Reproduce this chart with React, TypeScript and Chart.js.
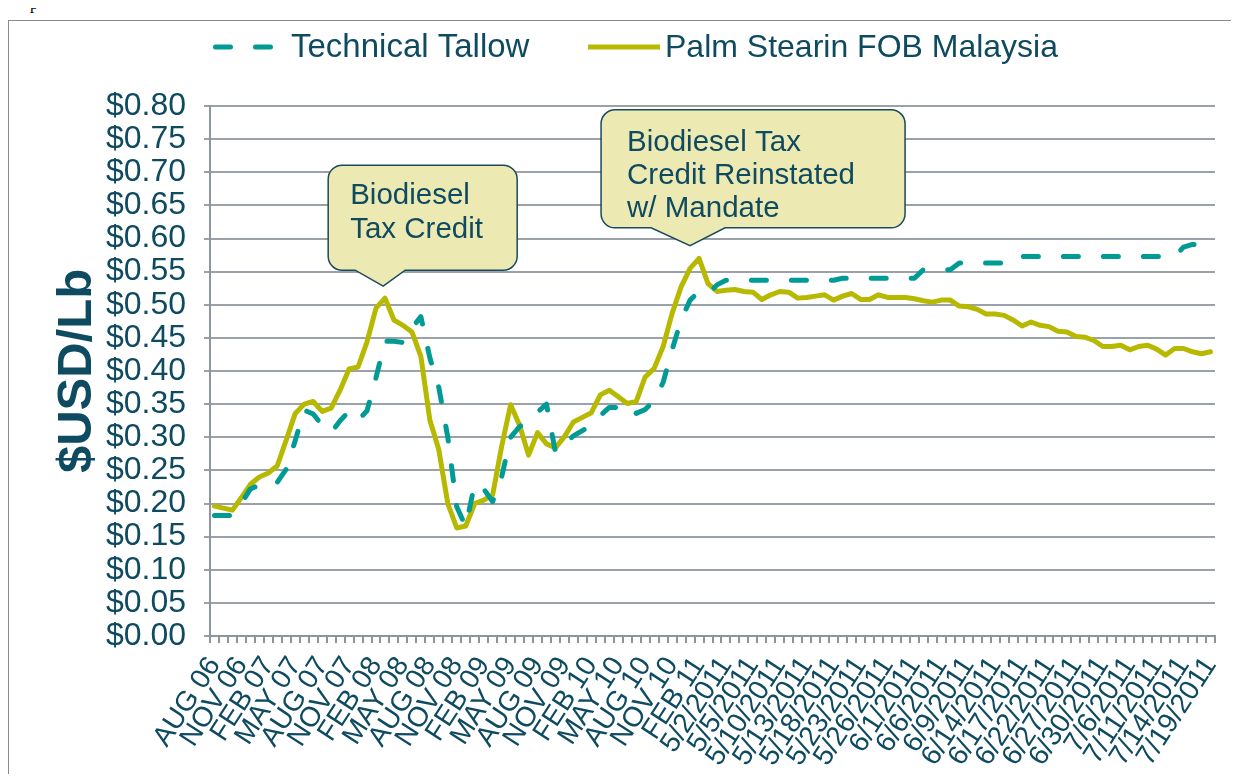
import React, { useEffect, useRef } from "react";
import { Chart, registerables } from "chart.js";

Chart.register(...registerables);

const monthLabels = [
  "AUG 06", "SEP 06", "OCT 06", "NOV 06", "DEC 06",
  "JAN 07", "FEB 07", "MAR 07", "APR 07", "MAY 07", "JUN 07", "JUL 07", "AUG 07", "SEP 07", "OCT 07", "NOV 07", "DEC 07",
  "JAN 08", "FEB 08", "MAR 08", "APR 08", "MAY 08", "JUN 08", "JUL 08", "AUG 08", "SEP 08", "OCT 08", "NOV 08", "DEC 08",
  "JAN 09", "FEB 09", "MAR 09", "APR 09", "MAY 09", "JUN 09", "JUL 09", "AUG 09", "SEP 09", "OCT 09", "NOV 09", "DEC 09",
  "JAN 10", "FEB 10", "MAR 10", "APR 10", "MAY 10", "JUN 10", "JUL 10", "AUG 10", "SEP 10", "OCT 10", "NOV 10", "DEC 10",
  "JAN 11", "FEB 11", "MAR 11", "APR 11",
];

const dayLabels = [
  "5/2/2011", "5/3/2011", "5/4/2011", "5/5/2011", "5/6/2011", "5/9/2011", "5/10/2011", "5/11/2011", "5/12/2011", "5/13/2011",
  "5/16/2011", "5/17/2011", "5/18/2011", "5/19/2011", "5/20/2011", "5/23/2011", "5/24/2011", "5/25/2011", "5/26/2011", "5/27/2011",
  "5/31/2011", "6/1/2011", "6/2/2011", "6/3/2011", "6/6/2011", "6/7/2011", "6/8/2011", "6/9/2011", "6/10/2011", "6/13/2011",
  "6/14/2011", "6/15/2011", "6/16/2011", "6/17/2011", "6/20/2011", "6/21/2011", "6/22/2011", "6/23/2011", "6/24/2011", "6/27/2011",
  "6/28/2011", "6/29/2011", "6/30/2011", "7/1/2011", "7/5/2011", "7/6/2011", "7/7/2011", "7/8/2011", "7/11/2011", "7/12/2011",
  "7/13/2011", "7/14/2011", "7/15/2011", "7/18/2011", "7/19/2011",
];

const categories = [...monthLabels, ...dayLabels];

const seriesNames = ["Technical Tallow", "Palm Stearin FOB Malaysia"];

const technicalTallow = [
  0.182, 0.182, 0.182, 0.2, 0.222, 0.228, 0.224, 0.232, 0.252, 0.295,
  0.341, 0.335, 0.318, 0.307, 0.325, 0.339, 0.326, 0.34, 0.39, 0.445,
  0.445, 0.443, 0.465, 0.482, 0.42, 0.375, 0.3, 0.195, 0.165, 0.23,
  0.222, 0.203, 0.24, 0.3, 0.316, 0.325, 0.338, 0.35, 0.277, 0.29,
  0.302, 0.31, 0.318, 0.333, 0.345, 0.345, 0.35, 0.336, 0.342, 0.355,
  0.383, 0.432, 0.477, 0.507, 0.52, 0.516, 0.53,
  0.537, 0.537, 0.537, 0.537, 0.537, 0.537, 0.537, 0.537, 0.537, 0.537, 0.537, 0.537, 0.537,
  0.54, 0.54, 0.54, 0.54, 0.54, 0.54, 0.54, 0.54, 0.54,
  0.553, 0.553, 0.553, 0.553,
  0.563, 0.563, 0.563, 0.563, 0.563, 0.563,
  0.573, 0.573, 0.573, 0.573, 0.573, 0.573, 0.573, 0.573, 0.573, 0.573,
  0.573, 0.573, 0.573, 0.573, 0.573, 0.573, 0.573, 0.573, 0.573,
  0.587, 0.591, 0.591, 0.591,
];

const palmStearin = [
  0.196, 0.193, 0.19, 0.209, 0.229, 0.24, 0.246, 0.257, 0.296, 0.336,
  0.35, 0.354, 0.339, 0.344, 0.371, 0.403, 0.406, 0.444, 0.495, 0.51,
  0.477, 0.469, 0.459, 0.422, 0.326, 0.281, 0.2, 0.163, 0.166, 0.2,
  0.205, 0.213, 0.286, 0.349, 0.318, 0.273, 0.307, 0.29, 0.284, 0.301,
  0.323, 0.33, 0.337, 0.364, 0.371, 0.361, 0.351, 0.354, 0.391, 0.404,
  0.437, 0.487, 0.527, 0.555, 0.57, 0.532, 0.52,
  0.522, 0.523, 0.52, 0.519, 0.508, 0.515, 0.52, 0.519, 0.51, 0.511,
  0.513, 0.515, 0.507, 0.513, 0.517, 0.508, 0.508, 0.515, 0.511, 0.511,
  0.511, 0.509, 0.506, 0.504, 0.507, 0.507, 0.498, 0.497, 0.493, 0.486,
  0.486, 0.484, 0.477, 0.468, 0.474, 0.469, 0.467, 0.46, 0.459, 0.452,
  0.451, 0.446, 0.437, 0.437, 0.439, 0.432, 0.437, 0.439, 0.433, 0.424,
  0.434, 0.434, 0.429, 0.426, 0.429,
];

const callouts = [
  { lines: ["Biodiesel", "Tax Credit"], category: 18.8, value: 0.528 },
  { lines: ["Biodiesel Tax", "Credit Reinstated", "w/ Mandate"], category: 53, value: 0.589 },
];

// geometry of the callout boxes relative to the pointer tip (pixels)
const calloutShapes = [
  { left: -55, right: 134, top: -121, bottom: -16, baseL: -28, baseR: 22, textX: 22, textY: 31, lineGap: 34 },
  { left: -89, right: 215, top: -136, bottom: -18, baseL: -39, baseR: 35, textX: 26, textY: 33, lineGap: 33 },
];

const FONT = '"Liberation Sans", Arial, Helvetica, sans-serif';
const TEXT = "#0E4A60";
const GRID = "#9AA1A8";
const AXIS = "#8E969D";
const TALLOW = "#009B94";
const PALM = "#B7B800";

export default function App() {
  const ref = useRef<HTMLCanvasElement>(null);

  useEffect(() => {
    document.documentElement.style.overflow = "hidden";
    const canvas = ref.current;
    if (!canvas) return;
    const ctx = canvas.getContext("2d");
    if (!ctx) return;

    const overlay = {
      id: "overlay",
      afterDraw(chart: any) {
        const c = chart.ctx;
        // legend
        c.save();
        c.textBaseline = "middle";
        c.fillStyle = TEXT;
        const ly = 27;
        c.lineWidth = 5;
        c.strokeStyle = TALLOW;
        c.lineCap = "round";
        c.setLineDash([15, 25]);
        c.beginPath();
        c.moveTo(207.5, ly);
        c.lineTo(262.5, ly);
        c.stroke();
        c.setLineDash([]);
        c.textAlign = "left";
        c.font = `33px ${FONT}`;
        c.fillText(seriesNames[0], 283, ly + 1);
        c.strokeStyle = PALM;
        c.lineCap = "butt";
        c.beginPath();
        c.moveTo(580, ly);
        c.lineTo(652, ly);
        c.stroke();
        c.font = `32px ${FONT}`;
        c.fillText(seriesNames[1], 657, ly + 1);
        c.restore();

        // callouts
        const xs = chart.scales.x;
        const ys = chart.scales.y;
        callouts.forEach((co, k) => {
          const s = calloutShapes[k];
          const tx = xs.getPixelForValue(co.category);
          const ty = ys.getPixelForValue(co.value);
          const L = tx + s.left, R = tx + s.right, T = ty + s.top, B = ty + s.bottom;
          const r = 14;
          c.save();
          c.beginPath();
          c.moveTo(L + r, T);
          c.lineTo(R - r, T);
          c.arcTo(R, T, R, T + r, r);
          c.lineTo(R, B - r);
          c.arcTo(R, B, R - r, B, r);
          c.lineTo(tx + s.baseR, B);
          c.lineTo(tx, ty);
          c.lineTo(tx + s.baseL, B);
          c.lineTo(L + r, B);
          c.arcTo(L, B, L, B - r, r);
          c.lineTo(L, T + r);
          c.arcTo(L, T, L + r, T, r);
          c.closePath();
          c.fillStyle = "#EDE9B3";
          c.fill();
          c.lineWidth = 1.5;
          c.strokeStyle = "#1A4A5C";
          c.stroke();
          c.fillStyle = TEXT;
          c.font = `29.5px ${FONT}`;
          c.textAlign = "left";
          c.textBaseline = "middle";
          co.lines.forEach((ln, j) => {
            c.fillText(ln, L + s.textX, T + s.textY + j * s.lineGap);
          });
          c.restore();
        });
      },
    };

    const chart = new Chart(ctx, {
      type: "line",
      data: {
        labels: categories,
        datasets: [
          {
            label: seriesNames[0],
            data: technicalTallow,
            borderColor: TALLOW,
            borderWidth: 5,
            borderDash: [15, 25],
            borderCapStyle: "round",
            borderJoinStyle: "round",
            pointRadius: 0,
            tension: 0,
            fill: false,
          },
          {
            label: seriesNames[1],
            data: palmStearin,
            borderColor: PALM,
            borderWidth: 5,
            borderJoinStyle: "round",
            borderCapStyle: "round",
            pointRadius: 0,
            tension: 0,
            fill: false,
          },
        ],
      },
      options: {
        responsive: false,
        animation: false,
        devicePixelRatio: 1,
        layout: { padding: { top: 86, right: 24, left: 0, bottom: 0 } },
        plugins: {
          legend: { display: false },
          tooltip: { enabled: false },
          title: { display: false },
        },
        scales: {
          x: {
            type: "category",
            offset: true,
            grid: {
              offset: true,
              drawOnChartArea: false,
              drawTicks: true,
              tickLength: 7,
              color: AXIS,
              lineWidth: 2,
            },
            border: { display: true, color: AXIS, width: 2 },
            ticks: {
              autoSkip: false,
              minRotation: 57,
              maxRotation: 57,
              padding: 8,
              color: TEXT,
              font: { family: FONT, size: 28 },
              callback: (_v: any, i: number) => (i % 3 === 0 ? categories[i] : ""),
            },
            afterFit: (scale: any) => {
              scale.height = 138;
              scale.paddingLeft = 0;
              scale.paddingRight = 0;
            },
          },
          y: {
            min: 0,
            max: 0.8,
            grid: {
              color: GRID,
              lineWidth: 2,
              drawTicks: true,
              tickLength: 6,
            },
            border: { display: true, color: AXIS, width: 2 },
            ticks: {
              stepSize: 0.05,
              autoSkip: false,
              padding: 18,
              color: TEXT,
              font: { family: FONT, size: 32 },
              callback: (v: any) => "$" + Number(v).toFixed(2),
            },
            title: {
              display: true,
              text: "$USD/Lb",
              color: TEXT,
              font: { family: FONT, size: 49, weight: "bold" },
              padding: { top: 40, bottom: 0 },
            },
            afterFit: (scale: any) => {
              scale.width = 202;
              scale.paddingTop = 0;
              scale.paddingBottom = 0;
            },
          },
        },
      },
      plugins: [overlay],
    } as any);

    return () => chart.destroy();
  }, []);

  return (
    <div style={{ paddingTop: 12, position: "relative" }}>
      <span
        style={{
          position: "absolute",
          left: 22,
          top: -12,
          fontFamily: '"Liberation Serif", "Times New Roman", serif',
          fontSize: 16,
          lineHeight: "16px",
          color: "#000",
        }}
      >
        p
      </span>
      <div style={{ position: "relative", width: 1231, height: 754, overflow: "hidden" }}>
        <div
          style={{
            position: "absolute",
            left: 0,
            top: 0,
            width: 3000,
            height: 3000,
            borderLeft: "1px solid #8a8a8a",
            borderTop: "1px solid #8a8a8a",
          }}
        />
        <canvas
          ref={ref}
          width={1231}
          height={754}
          style={{ position: "absolute", left: 0, top: 0, width: 1231, height: 754 }}
        />
      </div>
    </div>
  );
}
